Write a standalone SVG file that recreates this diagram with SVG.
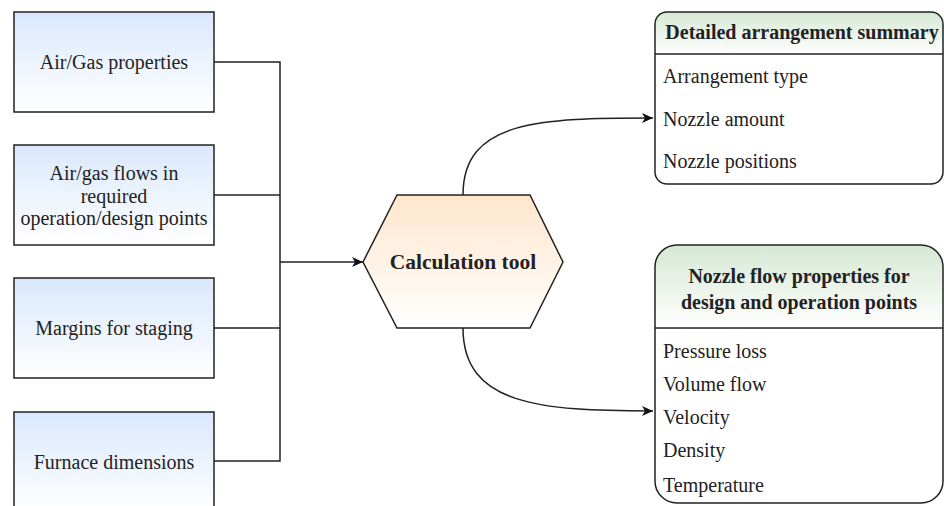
<svg xmlns="http://www.w3.org/2000/svg" width="944" height="506" viewBox="0 0 944 506">
<defs>
<linearGradient id="gBlue" x1="0" y1="0" x2="0" y2="1"><stop offset="0" stop-color="#dae8fc"/><stop offset="1" stop-color="#ffffff"/></linearGradient>
<linearGradient id="gOrange" x1="0" y1="0" x2="0" y2="1"><stop offset="0" stop-color="#ffe6cc"/><stop offset="1" stop-color="#ffffff"/></linearGradient>
<linearGradient id="gGreen" x1="0" y1="0" x2="0" y2="1"><stop offset="0" stop-color="#d5e8d4"/><stop offset="1" stop-color="#ffffff"/></linearGradient>
<marker id="arr" markerWidth="12" markerHeight="10" refX="11" refY="5" orient="auto" markerUnits="userSpaceOnUse">
<path d="M0,0 L11,5 L0,10 L3,5 Z" fill="#111"/>
</marker>
</defs>
<style>
.box{fill:url(#gBlue);stroke:#222;stroke-width:1.5}
.line{fill:none;stroke:#222;stroke-width:1.5}
text{font-family:'Liberation Serif','DejaVu Serif',serif;font-size:20px;fill:#222}
.c{text-anchor:middle}
.b{font-weight:bold}
</style>
<g id="connectors">
<path class="line" d="M214,62 H280 V461 H214"/>
<path class="line" d="M214,195 H280"/>
<path class="line" d="M214,328 H280"/>
<path class="line" d="M280,262 H363" marker-end="url(#arr)"/>
<path class="line" d="M463,195 C463,120 540,118 653,118" marker-end="url(#arr)"/>
<path class="line" d="M463,328 C463,405 540,411 653,411" marker-end="url(#arr)"/>
</g>
<g id="n1">
<rect class="box" x="14" y="12" width="200" height="100"/>
<text class="c" x="114" y="69">Air/Gas properties</text>
</g>
<g id="n2">
<rect class="box" x="14" y="145" width="200" height="100"/>
<text class="c" x="114" y="180">Air/gas flows in</text>
<text class="c" x="114" y="202.5">required</text>
<text class="c" x="114" y="225">operation/design points</text>
</g>
<g id="n3">
<rect class="box" x="14" y="278" width="200" height="100"/>
<text class="c" x="114" y="335">Margins for staging</text>
</g>
<g id="n4">
<rect class="box" x="14" y="412" width="200" height="100"/>
<text class="c" x="114" y="469">Furnace dimensions</text>
</g>
<g id="calc">
<polygon points="363,262 397,195 530,195 563,262 530,328 397,328" fill="url(#gOrange)" stroke="#222" stroke-width="1.5"/>
<text class="c b" x="463" y="269" style="font-size:21.5px">Calculation tool</text>
</g>
<g id="summary">
<rect x="655" y="12" width="288" height="172" rx="12" fill="#fff" stroke="none"/>
<path d="M655,54 V24 Q655,12 667,12 H931 Q943,12 943,24 V54 Z" fill="url(#gGreen)"/>
<rect x="655" y="12" width="288" height="172" rx="12" fill="none" stroke="#222" stroke-width="1.5"/>
<path class="line" d="M655,54 H943"/>
<text class="c b" x="802" y="39">Detailed arrangement summary</text>
<text x="663" y="83">Arrangement type</text>
<text x="663" y="126">Nozzle amount</text>
<text x="663" y="168">Nozzle positions</text>
</g>
<g id="flowprops">
<rect x="655" y="245" width="288" height="258" rx="22" fill="#fff" stroke="none"/>
<path d="M655,328 V267 Q655,245 677,245 H921 Q943,245 943,267 V328 Z" fill="url(#gGreen)"/>
<rect x="655" y="245" width="288" height="258" rx="22" fill="none" stroke="#222" stroke-width="1.5"/>
<path class="line" d="M655,328 H943"/>
<text class="c b" x="799" y="283">Nozzle flow properties for</text>
<text class="c b" x="799" y="309">design and operation points</text>
<text x="663" y="358">Pressure loss</text>
<text x="663" y="391">Volume flow</text>
<text x="663" y="424">Velocity</text>
<text x="663" y="457">Density</text>
<text x="663" y="492">Temperature</text>
</g>
</svg>
